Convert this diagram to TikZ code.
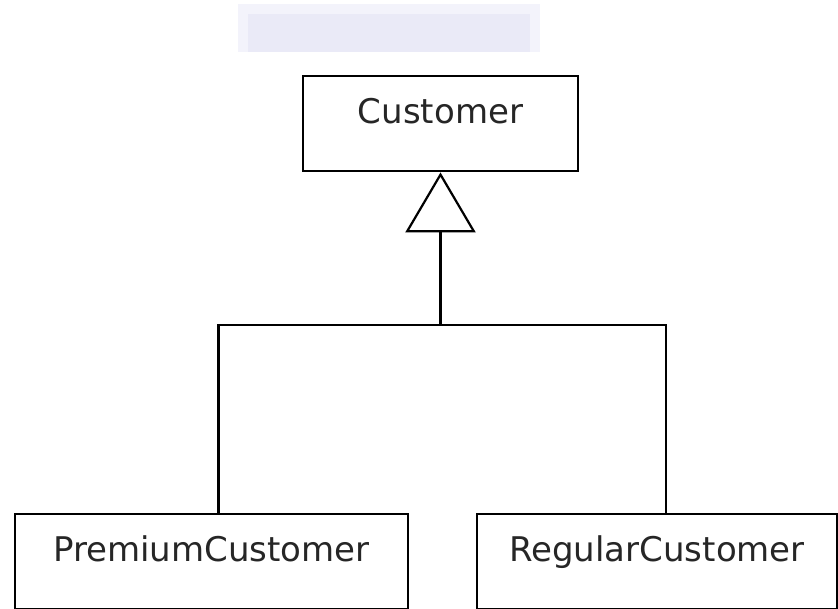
\documentclass[tikz,border=0pt]{standalone}
\usepackage{fontspec}
\setmainfont{DejaVu Sans}
\usepackage{xcolor}
\usetikzlibrary{arrows.meta,positioning}
\definecolor{markback}{HTML}{F3F3FB}
\definecolor{markfill}{HTML}{EAEAF7}

\begin{document}
\begin{tikzpicture}[x=1pt,y=-1pt,
        classbox/.style={draw, line width=2.4pt, inner sep=0pt, text height=47pt, text depth=48pt,
            font=\fontsize{34}{40}\selectfont, text=black!85},
        inherit/.style={line width=2.2pt, -{Triangle[open, length=60pt, width=70pt]}}]
        \useasboundingbox (0,0) rectangle (838,608);
        % faint logo behind the top
        \fill[markback] (238,4) rectangle (540,52);
        \fill[markfill] (248,14) rectangle (530,52);
        \node[classbox, minimum width=275pt, anchor=north] (cust) at (440.5,75) {Customer};
        \node[classbox, minimum width=393pt, anchor=north] (prem) at (211.5,513) {PremiumCustomer};
        \node[classbox, minimum width=360pt, anchor=north] (reg) at (657,513) {RegularCustomer};
        \coordinate (join) at (440.5,325);
        \draw[line width=2.2pt] ([xshift=7pt]prem.north) |- (join) -| ([xshift=9pt]reg.north);
        \draw[inherit] (join) -- (cust.south);
    \end{tikzpicture}
\end{document}
